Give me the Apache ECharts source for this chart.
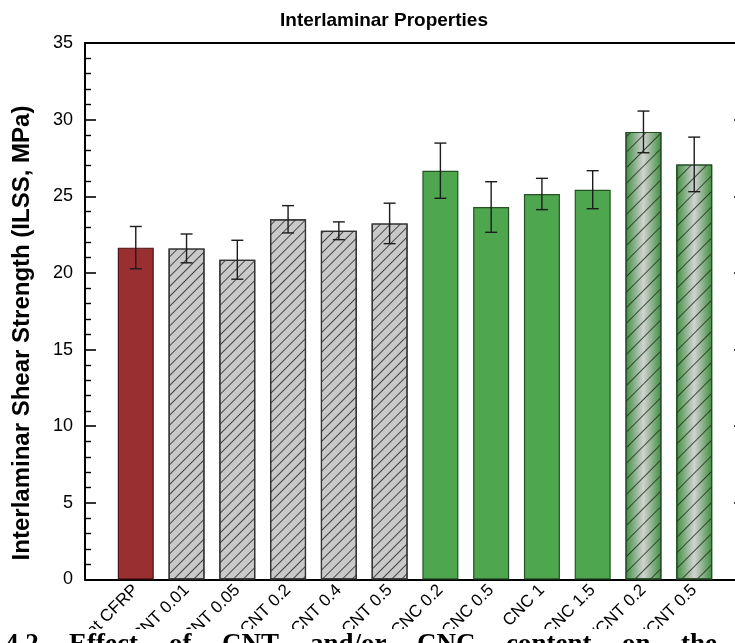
<!DOCTYPE html>
<html>
<head>
<meta charset="utf-8">
<script src="https://cdn.jsdelivr.net/npm/echarts@6/dist/echarts.min.js"></script>
<style>
  html, body { margin: 0; padding: 0; background: #fff; }
  #chart { width: 735px; height: 643px; }
</style>
</head>
<body>
<div id="chart"></div>
<script>
// Sample groups, in plotting order
const categories = [
  'Neat CFRP', 'CNT 0.01', 'CNT 0.05', 'CNT 0.2', 'CNT 0.4', 'CNT 0.5',
  'CNC 0.2', 'CNC 0.5', 'CNC 1', 'CNC 1.5', 'CNC/CNT 0.2', 'CNC/CNT 0.5'
];
// Mean interlaminar shear strength (MPa)
const ilssMean = [21.65, 21.6, 20.86, 23.5, 22.75, 23.23, 26.67, 24.3, 25.15, 25.43, 29.2, 27.08];
// Standard deviation (MPa)
const ilssSd = [1.38, 0.94, 1.27, 0.89, 0.58, 1.32, 1.8, 1.65, 1.02, 1.24, 1.36, 1.78];
// Y axis ticks
const yTicks = [0, 5, 10, 15, 20, 25, 30, 35];

const chart = echarts.init(document.getElementById('chart'), null, { renderer: 'canvas' });

const hatchGray = {
  symbol: 'rect', symbolSize: 1, color: 'rgba(45,45,45,0.85)',
  dashArrayX: [1, 0], dashArrayY: [0.8, 5.6], rotation: -Math.PI / 4
};
const hatchMixed = {
  symbol: 'rect', symbolSize: 1, color: 'rgba(30,50,30,0.85)',
  dashArrayX: [1, 0], dashArrayY: [0.8, 9.5], rotation: -Math.PI / 4
};
const mixedFill = {
  type: 'linear', x: 0, y: 0, x2: 1, y2: 0,
  colorStops: [
    { offset: 0, color: '#3f8f3f' },
    { offset: 0.5, color: '#d2d2d2' },
    { offset: 1, color: '#3f8f3f' }
  ]
};

function barStyle(i) {
  if (i === 0) return { color: '#9a2f31', borderColor: '#4d1516', borderWidth: 1.2 };
  if (i <= 5) return { color: '#c9c9c9', borderColor: '#333', borderWidth: 1.2, decal: hatchGray };
  if (i <= 9) return { color: '#4ea64e', borderColor: '#245224', borderWidth: 1.2 };
  return { color: mixedFill, borderColor: '#254d25', borderWidth: 1.2, decal: hatchMixed };
}

const barData = categories.map((c, i) => ({
  value: [i + 1, ilssMean[i]],
  itemStyle: barStyle(i)
}));
const errData = categories.map((c, i) => [i + 1, ilssMean[i], ilssSd[i]]);

// Caption line below the figure (justified words)
const captionWords = [
  ['4.2', 5], ['Effect', 69], ['of', 169], ['CNT', 222], ['and/or', 310],
  ['CNC', 417], ['content', 506], ['on', 622], ['the', 681]
];

const option = {
  backgroundColor: '#fff',
  animation: false,
  grid: { left: 85, top: 43, width: 660, height: 536.5, containLabel: false, outerBoundsMode: 'none' },
  xAxis: [
    {
      type: 'value', min: 0, max: 13, interval: 1, position: 'bottom',
      axisLine: { show: true, onZero: false, lineStyle: { color: '#000', width: 2 } },
      axisTick: { show: false },
      splitLine: { show: false },
      axisLabel: {
        rotate: 45, margin: 8, fontSize: 17, color: '#000',
        fontFamily: 'Liberation Sans, Arial, sans-serif',
        showMinLabel: false, showMaxLabel: false, hideOverlap: false,
        formatter: v => (v >= 1 && v <= categories.length ? categories[v - 1] : '')
      }
    },
    {
      type: 'value', min: 0, max: 13, position: 'top',
      axisLine: { show: true, onZero: false, lineStyle: { color: '#000', width: 2 } },
      axisTick: { show: false }, axisLabel: { show: false }, splitLine: { show: false }
    }
  ],
  yAxis: [
    {
      type: 'value', min: yTicks[0], max: yTicks[yTicks.length - 1], interval: 5, position: 'left',
      axisLine: { show: true, onZero: false, lineStyle: { color: '#000', width: 2 } },
      axisTick: { show: true, inside: true, length: 11, lineStyle: { color: '#000', width: 1.6 } },
      minorTick: { show: true, splitNumber: 5, length: 6, lineStyle: { color: '#000', width: 1.4 } },
      splitLine: { show: false },
      axisLabel: {
        margin: 12, fontSize: 18, color: '#000',
        fontFamily: 'Liberation Sans, Arial, sans-serif'
      }
    },
    {
      type: 'value', min: yTicks[0], max: yTicks[yTicks.length - 1], interval: 5, position: 'right',
      axisLine: { show: true, onZero: false, lineStyle: { color: '#000', width: 2 } },
      axisTick: { show: true, inside: true, length: 11, lineStyle: { color: '#000', width: 1.6 } },
      minorTick: { show: true, splitNumber: 5, length: 6, lineStyle: { color: '#000', width: 1.4 } },
      splitLine: { show: false }, axisLabel: { show: false }
    }
  ],
  series: [
    {
      type: 'bar', xAxisIndex: 0, yAxisIndex: 0, barWidth: 36,
      data: barData
    },
    {
      type: 'custom', xAxisIndex: 0, yAxisIndex: 0, z: 5,
      data: errData,
      renderItem: function (params, api) {
        const x = api.value(0), m = api.value(1), s = api.value(2);
        const top = api.coord([x, m + s]);
        const bot = api.coord([x, m - s]);
        const hw = 6;
        const st = { stroke: '#1c1c1c', lineWidth: 1.4 };
        return {
          type: 'group',
          children: [
            { type: 'line', shape: { x1: top[0], y1: top[1], x2: bot[0], y2: bot[1] }, style: st },
            { type: 'line', shape: { x1: top[0] - hw, y1: top[1], x2: top[0] + hw, y2: top[1] }, style: st },
            { type: 'line', shape: { x1: bot[0] - hw, y1: bot[1], x2: bot[0] + hw, y2: bot[1] }, style: st }
          ]
        };
      }
    }
  ],
  graphic: [
    {
      type: 'text', x: 384, y: 11, z: 50,
      style: {
        text: 'Interlaminar Properties', align: 'center', verticalAlign: 'top',
        font: 'bold 19px "Liberation Sans", Arial, sans-serif', fill: '#000'
      }
    },
    {
      type: 'text', x: 22, y: 333, rotation: Math.PI / 2, z: 50,
      style: {
        text: 'Interlaminar Shear Strength (ILSS, MPa)', align: 'center', verticalAlign: 'middle',
        font: 'bold 24px "Liberation Sans", Arial, sans-serif', fill: '#000'
      }
    },
    {
      type: 'rect', z: 90, shape: { x: 0, y: 629, width: 735, height: 20 },
      style: { fill: '#fff' }
    }
  ].concat(captionWords.map(([w, x]) => ({
    type: 'text', x: x, y: 632, z: 95,
    style: {
      text: w, align: 'left', verticalAlign: 'top',
      font: 'bold 27px "Liberation Serif", "Times New Roman", serif', fill: '#000'
    }
  })))
};

chart.setOption(option);
</script>
</body>
</html>
